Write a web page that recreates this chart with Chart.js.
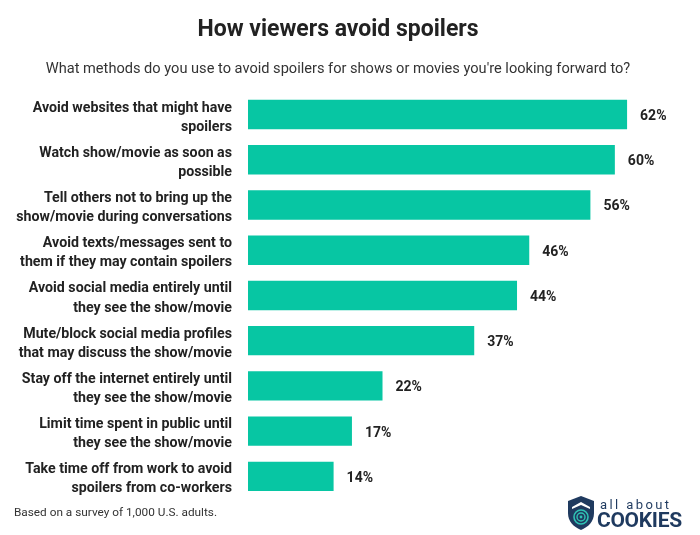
<!DOCTYPE html>
<html>
<head>
<meta charset="utf-8">
<script src="https://cdn.jsdelivr.net/npm/chart.js@4.4.1/dist/chart.umd.min.js"></script>
<style>
  html, body { margin: 0; padding: 0; background: #fff; }
  #wrap { position: relative; width: 700px; height: 535px; }
  #note { position: absolute; left: 14px; top: 505px; font: 11.8px 'Roboto', sans-serif; color: #333; }
  #logo { position: absolute; left: 566px; top: 495px; width: 125px; height: 38px; color: #1f3a5f; font-family: 'Roboto', sans-serif; }
  #logo svg { position: absolute; left: 0; top: 0; }
  #logo .small { position: absolute; left: 34px; top: 2px; font-size: 13px; letter-spacing: 2.4px; }
  #logo .big { position: absolute; left: 31px; top: 13px; font-size: 21px; font-weight: bold; letter-spacing: -0.3px; }
</style>
</head>
<body>
<div id="wrap">
  <canvas id="chart" width="700" height="535"></canvas>
  <div id="note">Based on a survey of 1,000 U.S. adults.</div>
  <div id="logo">
    <svg width="30" height="36" viewBox="0 0 30 36">
      <path d="M15 1 L28 6 L28 18 C28 27 22 32 15 35 C8 32 2 27 2 18 L2 6 Z" fill="#1f3a5f"/>
      <path d="M6 12 L15 7 L24 12 L24 14 L15 10 L6 14 Z" fill="#fff"/>
      <circle cx="15" cy="22" r="7" fill="none" stroke="#2fc3b5" stroke-width="1.6"/>
      <circle cx="15" cy="22" r="4" fill="none" stroke="#2fc3b5" stroke-width="1.4"/>
      <circle cx="15" cy="22" r="1.4" fill="#2fc3b5"/>
    </svg>
    <div class="small">all about</div>
    <div class="big">COOKIES</div>
  </div>
</div>
<script>
// Dane wykresu
const kategorie = [
    ['Avoid websites that might have', 'spoilers'],
    ['Watch show/movie as soon as', 'possible'],
    ['Tell others not to bring up the', 'show/movie during conversations'],
    ['Avoid texts/messages sent to', 'them if they may contain spoilers'],
    ['Avoid social media entirely until', 'they see the show/movie'],
    ['Mute/block social media profiles', 'that may discuss the show/movie'],
    ['Stay off the internet entirely until', 'they see the show/movie'],
    ['Limit time spent in public until', 'they see the show/movie'],
    ['Take time off from work to avoid', 'spoilers from co-workers']
];
const procenty = [62, 60, 56, 46, 44, 37, 22, 17, 14];

const FONT = "'Roboto', sans-serif";
const kolorSlupka = '#07c6a3';
const kolorTekstu = '#222222';

// Etykiety z wartosciami na koncu slupkow
const etykietyWartosci = {
    id: 'etykietyWartosci',
    afterDatasetsDraw(chart) {
        const ctx = chart.ctx;
        const meta = chart.getDatasetMeta(0);
        ctx.save();
        ctx.font = 'bold 14px ' + FONT;
        ctx.fillStyle = kolorTekstu;
        ctx.textAlign = 'left';
        ctx.textBaseline = 'middle';
        meta.data.forEach((bar, i) => {
            ctx.fillText(procenty[i] + '%', bar.x + 13, bar.y + 2);
        });
        ctx.restore();
    }
};

const ctx = document.getElementById('chart').getContext('2d');
new Chart(ctx, {
    type: 'bar',
    data: {
        labels: kategorie,
        datasets: [{
            data: procenty,
            backgroundColor: kolorSlupka,
            borderWidth: 0,
            categoryPercentage: 0.65,
            barPercentage: 1.0
        }]
    },
    options: {
        indexAxis: 'y',
        responsive: false,
        animation: false,
        layout: {
            padding: { left: 0, right: 24, top: 0, bottom: 36 }
        },
        plugins: {
            legend: { display: false },
            tooltip: { enabled: false },
            title: {
                display: true,
                text: 'How viewers avoid spoilers',
                color: kolorTekstu,
                font: { family: FONT, size: 23, weight: 'bold' },
                padding: { top: 16, bottom: 17 }
            },
            subtitle: {
                display: true,
                text: "What methods do you use to avoid spoilers for shows or movies you're looking forward to?",
                color: '#333333',
                font: { family: FONT, size: 14.6 },
                padding: { top: 0, bottom: 13.75 }
            }
        },
        scales: {
            x: {
                display: false,
                min: 0,
                max: 70
            },
            y: {
                grid: { display: false, drawTicks: false },
                border: { display: false },
                ticks: {
                    color: kolorTekstu,
                    font: { family: FONT, size: 14.2, weight: 'bold', lineHeight: 1.34 },
                    padding: 16,
                    labelOffset: 3
                },
                afterFit(scale) {
                    scale.width = 248;
                }
            }
        }
    },
    plugins: [etykietyWartosci]
});
</script>
</body>
</html>
